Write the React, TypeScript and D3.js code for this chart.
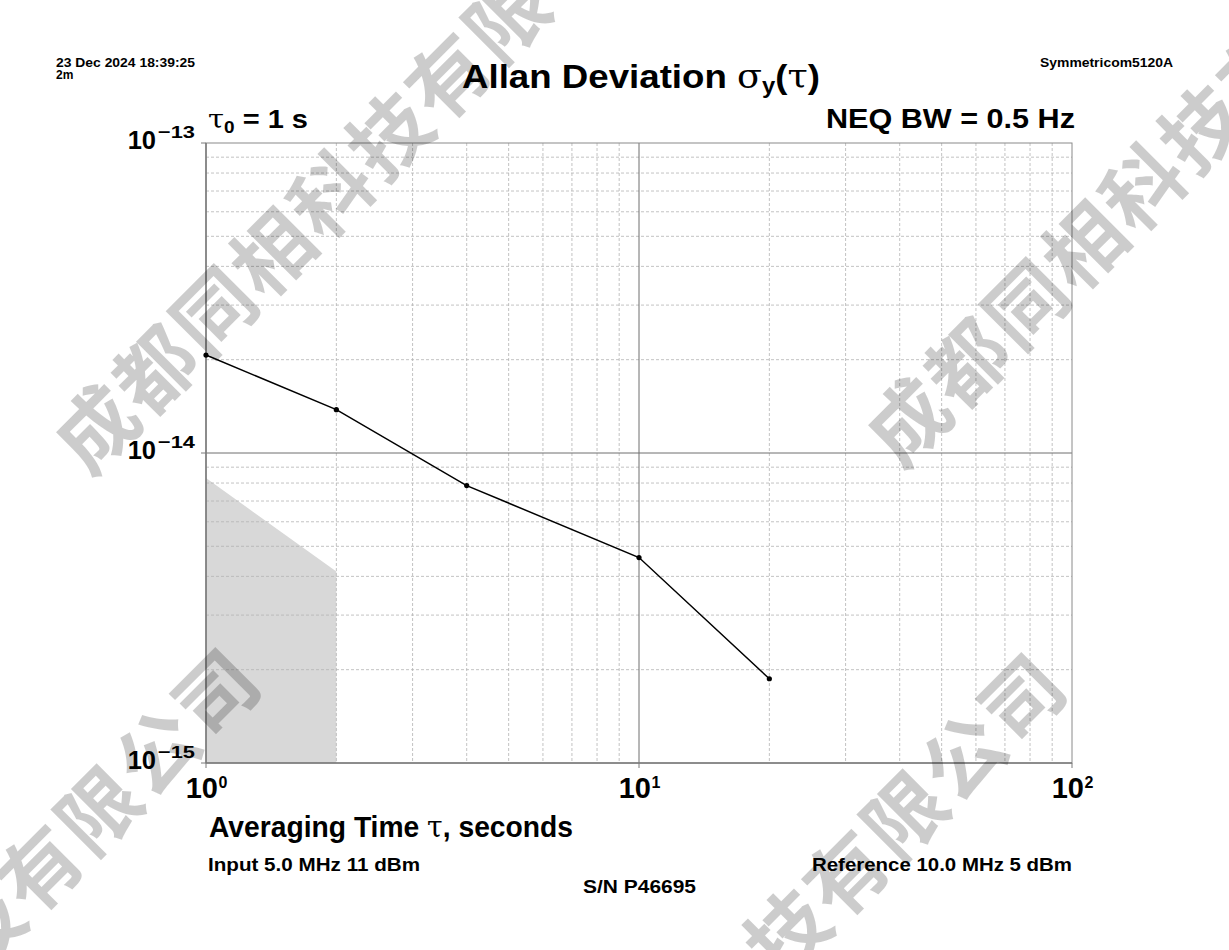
import React from "react";
import * as d3 from "d3";

// ---- data ----
const tauValues = [1, 2, 4, 10, 20];
const adevValues = [2.07e-14, 1.38e-14, 7.85e-15, 4.6e-15, 1.87e-15];
const floorTau = [1, 2];
const floorValues = [8.3e-15, 4.15e-15];
const xMajorTicks = [1, 10, 100];
const xMajorExp = ["0", "1", "2"];
const yMajorTicks = [1e-13, 1e-14, 1e-15];
const yMajorExp = ["\u221213", "\u221214", "\u221215"];
const watermarkChars = ["成", "都", "同", "相", "科", "技", "有", "限", "公", "司"];
const watermarkOrigins = [
  [93, 425],
  [905, 418],
  [491, 1222],
  [-315, 1217],
];

const W = 1229;
const H = 950;
const FONT = "'Liberation Sans', Arial, Helvetica, sans-serif";
const SERIF = "'DejaVu Serif', 'Liberation Serif', serif";

export default function App() {
  const x = d3.scaleLog().domain([1, 100]).range([206, 1072]);
  const y = d3.scaleLog().domain([1e-15, 1e-13]).range([763, 143]);

  const minorX: number[] = [];
  [1, 10].forEach((d) => {
    for (let k = 2; k <= 9; k++) minorX.push(d * k);
  });
  const minorY: number[] = [];
  [1e-15, 1e-14].forEach((d) => {
    for (let k = 2; k <= 9; k++) minorY.push(d * k);
  });

  const line = d3
    .line<number>()
    .x((_, i) => x(tauValues[i]))
    .y((d) => y(d));

  const area = d3
    .area<number>()
    .x((_, i) => x(floorTau[i]))
    .y0(() => y(1e-15))
    .y1((d) => y(d));

  const [x0, x1] = x.range();
  const [yb, yt] = y.range();

  return (
    <svg width={W} height={H} style={{ position: "absolute", left: 0, top: 0, background: "#fff" }}>
      <rect width={W} height={H} fill="#fff" />
      {/* shaded noise-floor region */}
      <path d={area(floorValues) || ""} fill="#d8d8d8" />

      {/* minor grid */}
      {minorX.map((v) => (
        <line key={"mx" + v} x1={x(v)} x2={x(v)} y1={yt} y2={yb} stroke="#b4b4b4" strokeWidth={0.8} strokeDasharray="3,2" />
      ))}
      {minorY.map((v) => (
        <line key={"my" + v} x1={x0} x2={x1} y1={y(v)} y2={y(v)} stroke="#b4b4b4" strokeWidth={0.8} strokeDasharray="3,2" />
      ))}
      {/* major grid */}
      <line x1={x(10)} x2={x(10)} y1={yt} y2={yb} stroke="#6e6e6e" strokeWidth={1} />
      <line x1={x0} x2={x1} y1={y(1e-14)} y2={y(1e-14)} stroke="#6e6e6e" strokeWidth={1} />
      {/* frame */}
      <rect x={x0} y={yt} width={x1 - x0} height={yb - yt} fill="none" stroke="#8a8a8a" strokeWidth={1} />
      <line x1={x0} x2={x0} y1={yt} y2={yb} stroke="#7a7a7a" strokeWidth={1.5} />
      <line x1={x0} x2={x1} y1={yb} y2={yb} stroke="#7a7a7a" strokeWidth={1.5} />
      {/* ticks */}
      {xMajorTicks.map((v) => (
        <line key={"tx" + v} x1={x(v)} x2={x(v)} y1={yb} y2={yb + 5} stroke="#7a7a7a" strokeWidth={1} />
      ))}
      {yMajorTicks.map((v) => (
        <line key={"ty" + v} x1={x0 - 5} x2={x0} y1={y(v)} y2={y(v)} stroke="#7a7a7a" strokeWidth={1} />
      ))}

      {/* watermark */}
      <g fill="#000" fillOpacity={0.2} fontFamily="'Noto Sans CJK SC', sans-serif" fontWeight={700} fontSize={80}>
        {watermarkOrigins.map(([ox, oy], li) =>
          watermarkChars.map((c, ci) => {
            const cx = ox + ci * 58.6;
            const cy = oy - ci * 58.6;
            if (cx < -30 || cx > W + 30 || cy < -30 || cy > H + 30) return null;
            return (
              <text
                key={li + "-" + ci}
                transform={`translate(${cx},${cy}) rotate(-45)`}
                textAnchor="middle"
                dominantBaseline="central"
              >
                {c}
              </text>
            );
          })
        )}
      </g>

      {/* data */}
      <path d={line(adevValues) || ""} fill="none" stroke="#000" strokeWidth={1.5} />
      {adevValues.map((v, i) => (
        <circle key={"p" + i} cx={x(tauValues[i])} cy={y(v)} r={2.6} fill="#000" />
      ))}

      {/* texts */}
      <g fontFamily={FONT} fontWeight="bold" fill="#000">
        <text x={56} y={67} fontSize={12} textLength={139} lengthAdjust="spacingAndGlyphs">23 Dec 2024 18:39:25</text>
        <text x={56} y={79} fontSize={12}>2m</text>
        <text x={1173} y={67} fontSize={13} textAnchor="end" textLength={133} lengthAdjust="spacingAndGlyphs">Symmetricom5120A</text>

        <text x={462} y={88} fontSize={34} textLength={358} lengthAdjust="spacingAndGlyphs">
          Allan Deviation <tspan fontFamily={SERIF} fontWeight="normal">σ</tspan>
          <tspan fontSize={22} dy={5}>y</tspan>
          <tspan dy={-5}>(</tspan>
          <tspan fontFamily={SERIF} fontWeight="normal">τ</tspan>
          <tspan>)</tspan>
        </text>

        <text x={208} y={128} fontSize={26} textLength={100} lengthAdjust="spacingAndGlyphs">
          <tspan fontFamily={SERIF} fontWeight="normal">τ</tspan>
          <tspan fontSize={17} dy={5}>0</tspan>
          <tspan dy={-5}> = 1 s</tspan>
        </text>
        <text x={1075} y={128} fontSize={27} textAnchor="end" textLength={249} lengthAdjust="spacingAndGlyphs">
          NEQ BW = 0.5 Hz
        </text>

        {yMajorTicks.map((v, i) => (
          <g key={"yl" + v}>
            <text x={156} y={y(v) + 5.5} fontSize={25.5} textAnchor="end">10</text>
            <text x={158} y={y(v) - 5} fontSize={17} textLength={37} lengthAdjust="spacingAndGlyphs">{yMajorExp[i]}</text>
          </g>
        ))}
        {xMajorTicks.map((v, i) => (
          <g key={"xl" + v}>
            <text x={x(v) + 12} y={798} fontSize={29} textAnchor="end">10</text>
            <text x={x(v) + 12.5} y={788} fontSize={16}>{xMajorExp[i]}</text>
          </g>
        ))}

        <text x={209} y={837} fontSize={29} textLength={364} lengthAdjust="spacingAndGlyphs">
          Averaging Time <tspan fontFamily={SERIF} fontWeight="normal">τ</tspan>, seconds
        </text>
        <text x={208} y={871} fontSize={19} textLength={212} lengthAdjust="spacingAndGlyphs">Input 5.0 MHz 11 dBm</text>
        <text x={583} y={893} fontSize={19} textLength={113} lengthAdjust="spacingAndGlyphs">S/N P46695</text>
        <text x={1072} y={871} fontSize={19} textAnchor="end" textLength={260} lengthAdjust="spacingAndGlyphs">Reference 10.0 MHz 5 dBm</text>
      </g>
    </svg>
  );
}
